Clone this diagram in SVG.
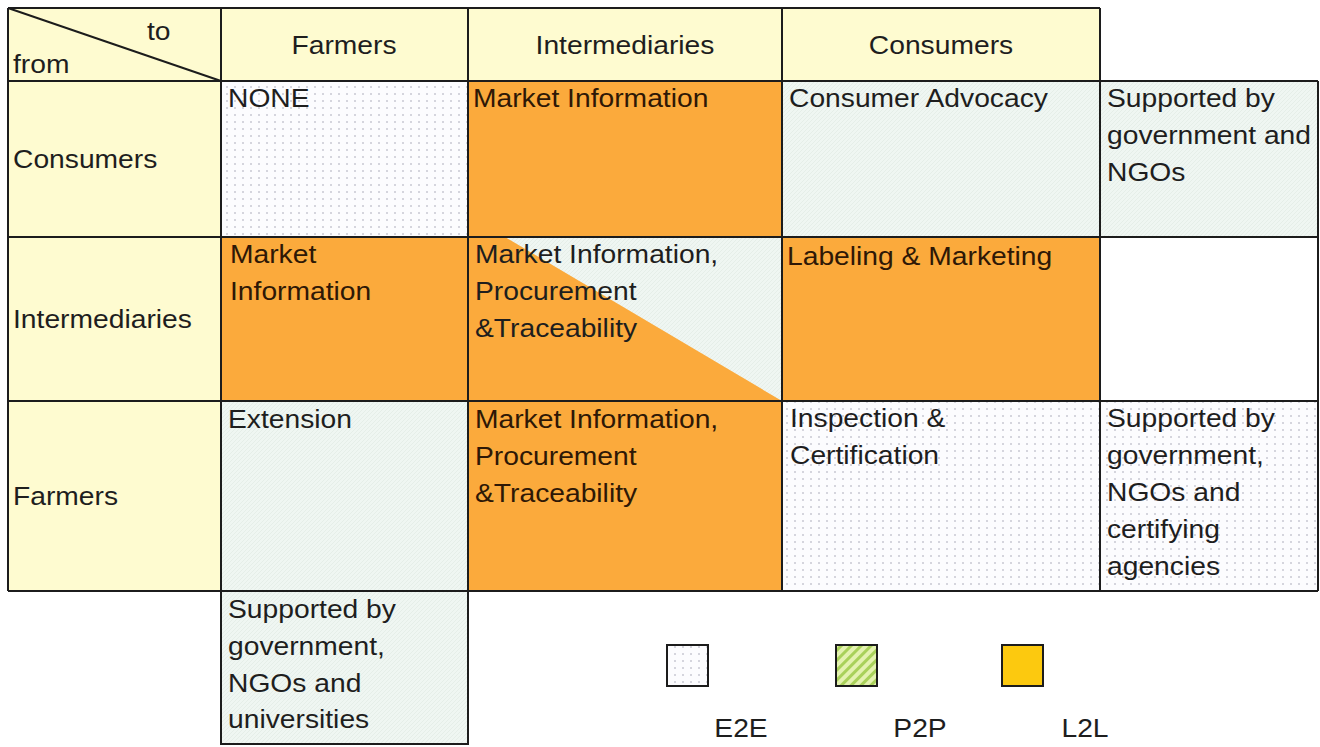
<svg xmlns="http://www.w3.org/2000/svg" width="1320" height="747" viewBox="0 0 1320 747">
<style>
.t{font-family:"Liberation Sans",Arial,sans-serif;font-size:25px;fill:#1e1e1e}
.o{fill:#2e1806}
.yel{fill:#fefbd0}
.org{fill:#fbaa3c}
.soft{fill:url(#soft)}
.dot{fill:url(#dots)}
.grid line{stroke:#1c1c1c;stroke-width:2}
.box{fill:none;stroke:#1c1c1c;stroke-width:2}
</style>
<defs>
<pattern id="dots" width="8" height="7" patternUnits="userSpaceOnUse">
<rect width="8" height="7" fill="#fcfcfe"/>
<circle cx="3" cy="3" r="0.8" fill="#a4a4b4"/>
</pattern>
<pattern id="soft" width="4" height="4" patternUnits="userSpaceOnUse">
<rect width="4" height="4" fill="#eff6f2"/>
<path d="M0 4L4 0" stroke="#e2ece6" stroke-width="0.8"/>
</pattern>
<pattern id="hatch" width="7" height="7" patternUnits="userSpaceOnUse" patternTransform="rotate(45)">
<rect width="7" height="7" fill="#e4f2b0"/>
<rect width="3" height="7" fill="#a9d15a"/>
</pattern>
</defs>

<g id="header">
<rect x="8" y="8" width="1092" height="73" class="yel"/>
<g id="corner">
<line x1="8" y1="8" x2="221" y2="81" stroke="#1c1c1c" stroke-width="2"/>
<text class="t" transform="translate(147,40) scale(1.13,1)">to</text>
<text class="t" transform="translate(13,73) scale(1.13,1)">from</text>
</g>
<g id="col-farmers"><text class="t" text-anchor="middle" transform="translate(344,54) scale(1.13,1)">Farmers</text></g>
<g id="col-intermediaries"><text class="t" text-anchor="middle" transform="translate(625,54) scale(1.13,1)">Intermediaries</text></g>
<g id="col-consumers"><text class="t" text-anchor="middle" transform="translate(941,54) scale(1.13,1)">Consumers</text></g>
</g>

<g id="row-headers">
<rect x="8" y="81" width="213" height="510" class="yel"/>
<g id="row-consumers"><text class="t" transform="translate(13,168) scale(1.13,1)">Consumers</text></g>
<g id="row-intermediaries"><text class="t" transform="translate(13,328) scale(1.13,1)">Intermediaries</text></g>
<g id="row-farmers"><text class="t" transform="translate(13,505) scale(1.13,1)">Farmers</text></g>
</g>

<g id="c-to-f">
<rect x="221" y="81" width="247" height="156" class="dot"/>
<text class="t" transform="translate(228,107) scale(1.13,1)">NONE</text>
</g>
<g id="c-to-i">
<rect x="468" y="81" width="314" height="156" class="org"/>
<text class="t o" transform="translate(473,107) scale(1.13,1)">Market Information</text>
</g>
<g id="c-to-c">
<rect x="782" y="81" width="318" height="156" class="soft"/>
<text class="t" transform="translate(789,107) scale(1.13,1)">Consumer Advocacy</text>
</g>
<g id="c-support">
<rect x="1100" y="81" width="218" height="156" class="soft"/>
<text class="t" transform="translate(1107,107) scale(1.13,1)"><tspan x="0">Supported by</tspan><tspan x="0" dy="37">government and</tspan><tspan x="0" dy="37">NGOs</tspan></text>
</g>

<g id="i-to-f">
<rect x="221" y="237" width="247" height="164" class="org"/>
<text class="t o" transform="translate(230,263) scale(1.13,1)"><tspan x="0">Market</tspan><tspan x="0" dy="37">Information</tspan></text>
</g>
<g id="i-to-i">
<rect x="468" y="237" width="314" height="164" class="soft"/>
<polygon points="468,237 505,237 782,401 468,401" class="org"/>
<text class="t" transform="translate(475,263) scale(1.13,1)"><tspan x="0">Market Information,</tspan><tspan x="0" dy="37">Procurement</tspan><tspan x="0" dy="37">&amp;Traceability</tspan></text>
</g>
<g id="i-to-c">
<rect x="782" y="237" width="318" height="164" class="org"/>
<text class="t o" transform="translate(787,265) scale(1.13,1)">Labeling &amp; Marketing</text>
</g>
<g id="i-empty">
<rect x="1100" y="237" width="218" height="164" fill="#ffffff"/>
</g>

<g id="f-to-f">
<rect x="221" y="401" width="247" height="190" class="soft"/>
<text class="t" transform="translate(228,428) scale(1.13,1)">Extension</text>
</g>
<g id="f-to-i">
<rect x="468" y="401" width="314" height="190" class="org"/>
<text class="t o" transform="translate(475,428) scale(1.13,1)"><tspan x="0">Market Information,</tspan><tspan x="0" dy="37">Procurement</tspan><tspan x="0" dy="37">&amp;Traceability</tspan></text>
</g>
<g id="f-to-c">
<rect x="782" y="401" width="318" height="190" class="dot"/>
<text class="t" transform="translate(790,427) scale(1.13,1)"><tspan x="0">Inspection &amp;</tspan><tspan x="0" dy="37">Certification</tspan></text>
</g>
<g id="f-support">
<rect x="1100" y="401" width="218" height="190" class="dot"/>
<text class="t" transform="translate(1107,427) scale(1.13,1)"><tspan x="0">Supported by</tspan><tspan x="0" dy="37">government,</tspan><tspan x="0" dy="37">NGOs and</tspan><tspan x="0" dy="37">certifying</tspan><tspan x="0" dy="37">agencies</tspan></text>
</g>

<g id="f-col-support">
<rect x="221" y="591" width="247" height="153" class="soft"/>
<rect x="221" y="591" width="247" height="153" class="box"/>
<text class="t" transform="translate(228,618) scale(1.13,1)"><tspan x="0">Supported by</tspan><tspan x="0" dy="37">government,</tspan><tspan x="0" dy="37">NGOs and</tspan><tspan x="0" dy="36">universities</tspan></text>
</g>

<g id="connectors" class="grid">
<line x1="8" y1="8" x2="1100" y2="8"/>
<line x1="8" y1="81" x2="1318" y2="81"/>
<line x1="8" y1="237" x2="1318" y2="237"/>
<line x1="8" y1="401" x2="1318" y2="401"/>
<line x1="8" y1="591" x2="1318" y2="591"/>
<line x1="8" y1="8" x2="8" y2="591"/>
<line x1="221" y1="8" x2="221" y2="591"/>
<line x1="468" y1="8" x2="468" y2="591"/>
<line x1="782" y1="8" x2="782" y2="591"/>
<line x1="1100" y1="8" x2="1100" y2="591"/>
<line x1="1318" y1="81" x2="1318" y2="591"/>
</g>

<g id="legend-e2e">
<rect x="667" y="645" width="41" height="41" class="dot" stroke="#1c1c1c" stroke-width="2"/>
<text class="t" text-anchor="middle" transform="translate(741,737) scale(1.13,1)">E2E</text>
</g>
<g id="legend-p2p">
<rect x="836" y="645" width="41" height="41" fill="url(#hatch)" stroke="#1c1c1c" stroke-width="2"/>
<text class="t" text-anchor="middle" transform="translate(920,737) scale(1.13,1)">P2P</text>
</g>
<g id="legend-l2l">
<rect x="1002" y="645" width="41" height="41" fill="#fcc90f" stroke="#1c1c1c" stroke-width="2"/>
<text class="t" text-anchor="middle" transform="translate(1085,737) scale(1.13,1)">L2L</text>
</g>
</svg>
